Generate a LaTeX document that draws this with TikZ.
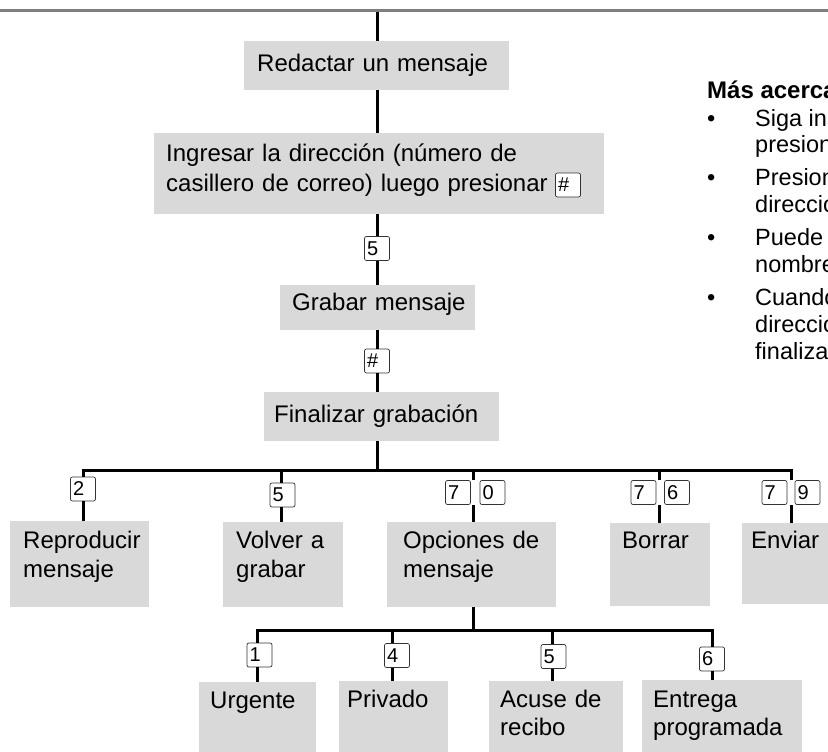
\documentclass[tikz,border=0pt]{standalone}
\usepackage{fontspec}
\setmainfont{Liberation Sans}
\usetikzlibrary{fit}
\definecolor{boxgray}{RGB}{217,217,217}
\definecolor{rulegray}{RGB}{128,128,128}
\begin{document}
\begin{tikzpicture}[x=1pt,y=-1pt,
  box/.style={fill=boxgray, draw=none, inner sep=0pt},
  lsk/.style={execute at begin node={\baselineskip=#1pt\relax}},
  txt/.style={inner sep=0pt, anchor=base west, align=left, text width=520pt, font=\fontsize{24}{29}\selectfont, lsk=29},
  side/.style={inner sep=0pt, anchor=base west, font=\fontsize{23.5}{26}\selectfont},
  conn/.style={line width=3pt, line join=miter},
  key/.style={draw=black!80, line width=0.7pt, rounded corners=2pt, fill=white, inner xsep=2.5pt, inner ysep=0pt, text width=20pt, align=left, minimum height=24pt, font=\fontsize{20}{20}\selectfont},
  pair/.style={inner sep=0pt, draw=none}]
\useasboundingbox (0,0) rectangle (828,752);
\clip (0,0) rectangle (828,752);
% top rule
\coordinate (rl) at (0,11);
\coordinate (rr) at (828,11);
\draw[rulegray, line width=3pt] (rl) -- (rr);
% boxes
\node[box, fit={(244,41) (509,90)}] (red) {};
\node[box, fit={(154,133) (604,214)}] (ing) {};
\node[box, fit={(280,285) (475,330)}] (grab) {};
\node[box, fit={(264,392) (499,441)}] (fin) {};
\node[box, fit={(10,521) (149,607)}] (rep) {};
\node[box, fit={(223,522) (343,607)}] (vol) {};
\node[box, fit={(387,522) (556,607)}] (opc) {};
\node[box, fit={(610,523) (710,606)}] (bor) {};
\node[box, fit={(742,523) (862,604)}] (env) {};
\node[box, fit={(199,682) (316,762)}] (urg) {};
\node[box, fit={(339,681) (448,762)}] (pri) {};
\node[box, fit={(489,681) (623,762)}] (acu) {};
\node[box, fit={(642,680) (802,762)}] (ent) {};
% keys
\node[key] (k5a) at (377,248.5) {5};
\node[key] (kha) at (377,361) {\#};
\node[key] (khi) at (568,185) {\#};
\node[key] (k2) at (83,489) {2};
\node[key] (k5b) at (282.5,495) {5};
\node[key] (k7a) at (458,492.5) {7};
\node[key] (k0) at (492.5,492.5) {0};
\node[pair, fit=(k7a)(k0)] (p70) {};
\node[key] (k7b) at (643.5,492.5) {7};
\node[key] (k6a) at (677,492.5) {6};
\node[pair, fit=(k7b)(k6a)] (p76) {};
\node[key] (k7c) at (774.5,492.5) {7};
\node[key] (k9) at (807.5,492.5) {9};
\node[pair, fit=(k7c)(k9)] (p79) {};
\node[key] (k1) at (259.5,655) {1};
\node[key] (k4) at (397,655.5) {4};
\node[key] (k5c) at (553.5,656.5) {5};
\node[key] (k6b) at (712,659) {6};
% connectors
\coordinate (top) at (377,12);
\draw[conn] (top) -- (top |- red.north);
\draw[conn] (top |- red.south) -- (top |- ing.north);
\draw[conn] (top |- ing.south) -- (k5a.north);
\draw[conn] (k5a.south) -- (top |- grab.north);
\draw[conn] (top |- grab.south) -- (kha.north);
\draw[conn] (kha.south) -- (top |- fin.north);
\coordinate (bus) at (377,470);
\coordinate (b1) at (83,470);
\coordinate (b2) at (281,470);
\coordinate (b3) at (473,470);
\coordinate (b4) at (659,470);
\coordinate (b5) at (791,470);
\draw[conn] (bus |- fin.south) -- (bus);
\draw[conn] (b1 |- k2.north) -- (b1) -- (b5) -- (b5 |- p79.north);
\draw[conn] (b2) -- (b2 |- k5b.north);
\draw[conn] (b3) -- (b3 |- p70.north);
\draw[conn] (b4) -- (b4 |- p76.north);
\draw[conn] (b1 |- k2.south) -- (b1 |- rep.north);
\draw[conn] (b2 |- k5b.south) -- (b2 |- vol.north);
\draw[conn] (b3 |- p70.south) -- (b3 |- opc.north);
\draw[conn] (b4 |- p76.south) -- (b4 |- bor.north);
\draw[conn] (b5 |- p79.south) -- (b5 |- env.north);
\coordinate (c0) at (473,630);
\coordinate (c1) at (257,630);
\coordinate (c2) at (392,630);
\coordinate (c3) at (552,630);
\coordinate (c4) at (712,630);
\draw[conn] (c0 |- opc.south) -- (c0);
\draw[conn] (c1 |- k1.north) -- (c1) -- (c4) -- (c4 |- k6b.north);
\draw[conn] (c2) -- (c2 |- k4.north);
\draw[conn] (c3) -- (c3 |- k5c.north);
\draw[conn] (c1 |- k1.south) -- (c1 |- urg.north);
\draw[conn] (c2 |- k4.south) -- (c2 |- pri.north);
\draw[conn] (c3 |- k5c.south) -- (c3 |- acu.north);
\draw[conn] (c4 |- k6b.south) -- (c4 |- ent.north);
% texts
\node[txt] (tred) at (257,72) {Redactar un mensaje};
\node[txt, lsk=30] (ting) at (166,161) {Ingresar la dirección (número de\\casillero de correo) luego presionar};
\node[txt] (tgrab) at (292,310) {Grabar mensaje};
\node[txt] (tfin) at (274,422) {Finalizar grabación};
\node[txt] (trep) at (23,548) {Reproducir\\mensaje};
\node[txt] (tvol) at (236,548) {Volver a\\grabar};
\node[txt] (topc) at (403,548) {Opciones de\\mensaje};
\node[txt] (tbor) at (622,548) {Borrar};
\node[txt] (tenv) at (751,548) {Enviar};
\node[txt] (turg) at (210,708) {Urgente};
\node[txt] (tpri) at (347,707) {Privado};
\node[txt, lsk=28] (tacu) at (500,707) {Acuse de\\recibo};
\node[txt, lsk=28] (tent) at (653,707) {Entrega\\programada};
% side notes
\node[side, font=\bfseries\fontsize{24}{26}\selectfont] (hd) at (707,99) {Más acerca de};
\node[side] (u1) at (707,126) {•};
\node[side] (s1a) at (755,126) {Siga ingresando};
\node[side] (s1b) at (755,153) {presionando};
\node[side] (u2) at (707,185) {•};
\node[side] (s2a) at (755,185) {Presione};
\node[side] (s2b) at (755,212) {dirección};
\node[side] (u3) at (707,245) {•};
\node[side] (s3a) at (755,245) {Puede};
\node[side] (s3b) at (755,272) {nombres};
\node[side] (u4) at (707,305) {•};
\node[side] (s4a) at (755,305) {Cuando};
\node[side] (s4b) at (755,332) {dirección};
\node[side] (s4c) at (755,359) {finalizar};
\end{tikzpicture}
\end{document}
